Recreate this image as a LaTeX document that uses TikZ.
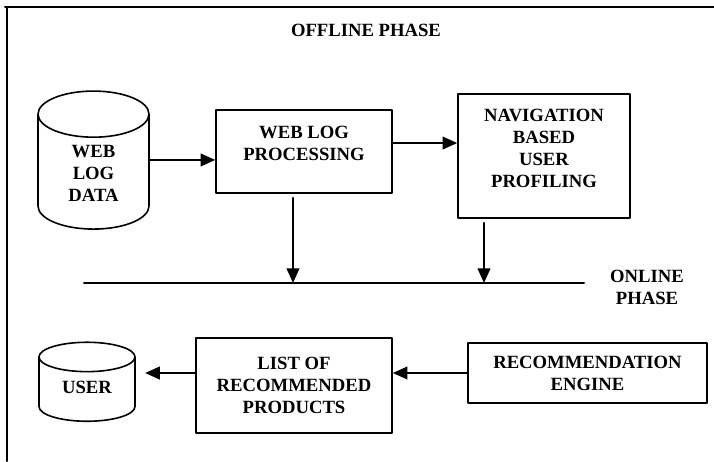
\documentclass[tikz,border=0pt]{standalone}
\usepackage{fontspec}
\setmainfont{Liberation Serif}
\usepackage{tikz}
\usetikzlibrary{arrows.meta,shapes.geometric,calc}

\begin{document}
\begin{tikzpicture}[line cap=round,line join=round,x=0.75pt,y=-0.75pt,
  >={Triangle[length=11pt,width=9.5pt]},
  txt/.style={font=\fontsize{14}{16.5}\selectfont\bfseries,align=center},
  box/.style={txt,draw,line width=1.2pt,inner sep=0pt},
  store/.style={txt,draw,line width=1.2pt,cylinder,shape border rotate=90,inner sep=0pt},
  arr/.style={->,line width=1.5pt}]
			\useasboundingbox (0,0) rectangle (714,461);
			\draw [line width=1.5pt] (5,7) -- (714,7);
			\draw [line width=1.5pt] (7,7) -- (7,461);
			\node[txt] (offline) at (366,30) {OFFLINE PHASE};
			\node[store,minimum width=111*0.75pt,minimum height=138*0.75pt,aspect=0.92] (data) at (93.5,172)
			  {\raisebox{-5.75pt}[0pt][0pt]{\begin{tabular}{@{}c@{}}WEB\\LOG\\DATA\end{tabular}}};
			\node[box,minimum width=176*0.75pt,minimum height=83*0.75pt] (wlp) at (304,151.5) {WEB LOG\\PROCESSING\\[-4.5pt]};
			\node[box,minimum width=172*0.75pt,minimum height=124*0.75pt] (nav) at (544,156) {NAVIGATION\\BASED\\USER\\PROFILING\\[-4.5pt]};
			\node[txt] (online) at (647,287) {ONLINE\\PHASE};
			\node[store,minimum width=96*0.75pt,minimum height=79*0.75pt,aspect=0.59] (user) at (87,389.5) {\raisebox{3.75pt}{USER}};
			\node[box,minimum width=196*0.75pt,minimum height=95*0.75pt] (list) at (294,385.5) {LIST OF\\RECOMMENDED\\PRODUCTS};
			\node[box,minimum width=239*0.75pt,minimum height=60*0.75pt] (engine) at (587.5,373) {RECOMMENDATION\\ENGINE};
			\coordinate (lineL) at (84,283);
			\coordinate (lineR) at (584,283);
			\coordinate (h1) at (293,283);
			\coordinate (h2) at (484,283);
			\coordinate (wlpW) at ($(wlp.north west)!0.6!(wlp.south west)$);
			\coordinate (wlpE) at ($(wlp.north east)!0.4!(wlp.south east)$);
			\draw [line width=1.5pt] (lineL) -- (lineR);
			\draw [arr] (wlpW -| data.east) -- (wlpW);
			\draw [arr] (wlpE) -- (wlpE -| nav.west);
			\draw [arr,shorten <=3pt] (h1 |- wlp.south) -- (h1);
			\draw [arr,shorten <=3pt] (h2 |- nav.south) -- (h2);
			\draw [arr] (engine.west) -- (engine.west -| list.east);
			\draw [arr,shorten >=7pt] (list.west |- engine.west) -- (engine.west -| user.east);
			\end{tikzpicture}
\end{document}
